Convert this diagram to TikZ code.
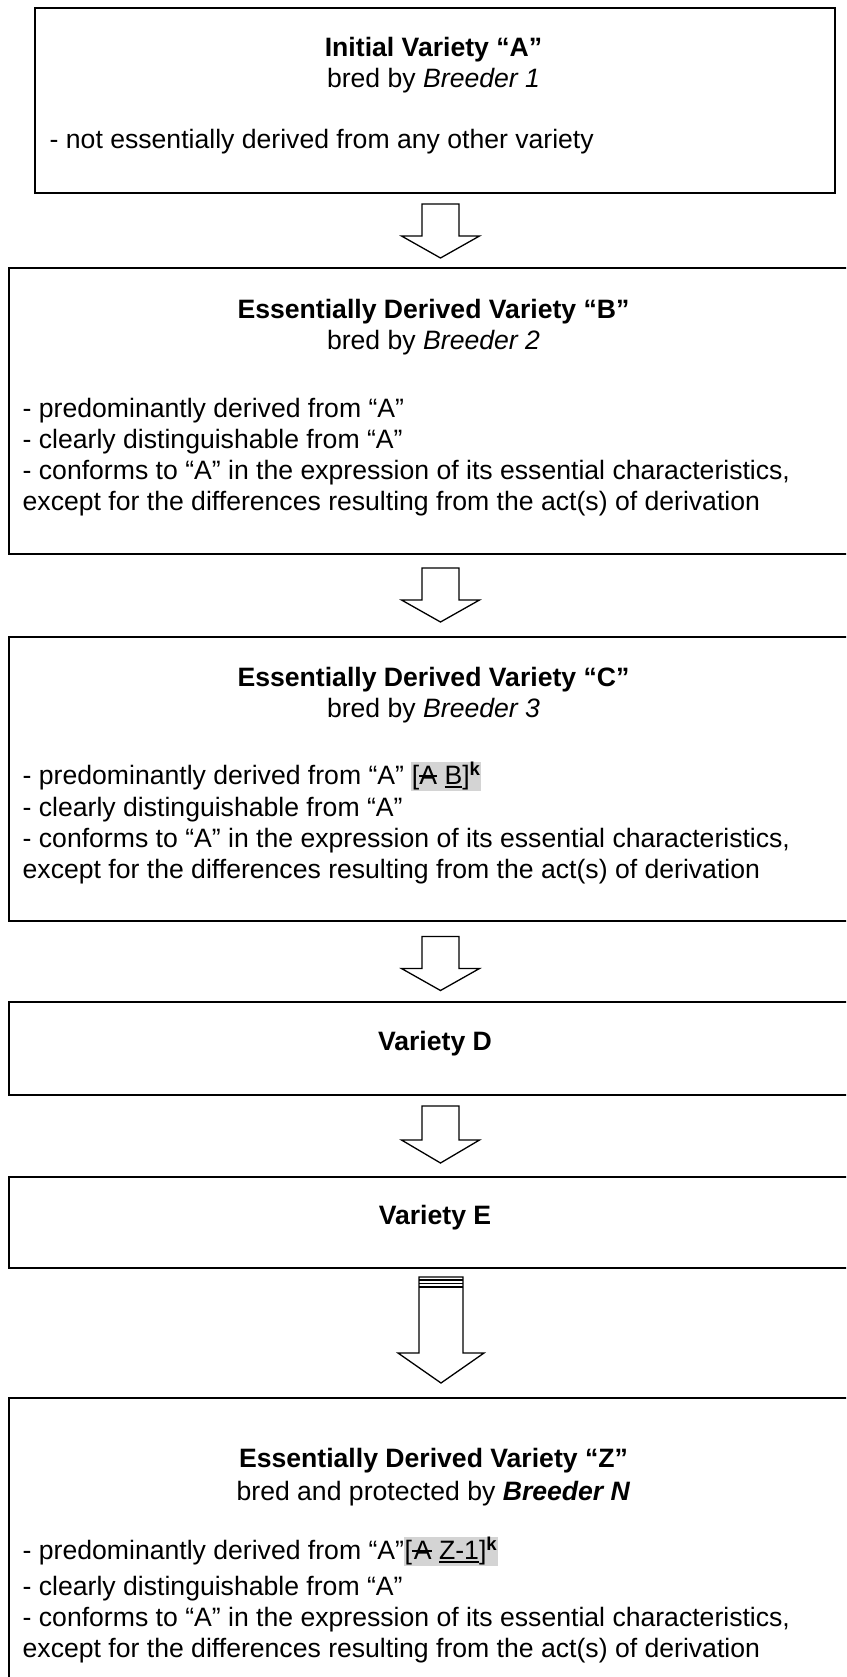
\documentclass[tikz,border=0pt]{standalone}
\usepackage{fontspec}
\setmainfont{Liberation Sans}
\definecolor{hl}{HTML}{D4D4D4}
\newsavebox\mytmpbox
\newcommand\mystrike[1]{\sbox\mytmpbox{#1}\rlap{\rule[0.3em]{\wd\mytmpbox}{0.07em}}\usebox\mytmpbox}
\newcommand\myunder[1]{\sbox\mytmpbox{#1}\rlap{\rule[-0.12em]{\wd\mytmpbox}{0.07em}}\usebox\mytmpbox}
\tikzset{
  vbox/.style={draw, line width=2pt, inner sep=0pt, anchor=north west},
  txt/.style={inner sep=0pt, font=\fontsize{26.6}{31}\selectfont},
  title/.style={txt, anchor=mid, font=\fontsize{26.6}{31}\selectfont\bfseries},
  sub/.style={txt, anchor=mid},
  item/.style={txt, anchor=mid west},
  arrowline/.style={draw, line width=1.3pt, line join=miter, fill=white},
  pics/blkarrow/.style n args={4}{code={
    \draw[arrowline] (-#1,0) -- (#1,0) -- (#1,#3) -- (#2,#3) -- (0,#4) -- (-#2,#3) -- (-#1,#3) -- cycle;
  }}
}
\newcommand{\hlAB}{\setlength{\fboxsep}{0.5pt}\colorbox{hl}{[\mystrike{A} \myunder{B}]\textsuperscript{\textbf{k}}}}
\newcommand{\hlAZ}{\setlength{\fboxsep}{0.5pt}\colorbox{hl}{[\mystrike{\hspace{2pt}A} \myunder{Z-1}]\textsuperscript{\textbf{k}}}}
\begin{document}
\begin{tikzpicture}[x=1pt,y=-1pt]
\useasboundingbox (0,0) rectangle (846,1677);
\clip (0,0) rectangle (846,1677);
\fill[white] (0,0) rectangle (846,1677);
% boxes
\node[vbox, minimum width=800pt, minimum height=185pt] (A) at (34,7.5) {};
\node[vbox, minimum width=850pt, minimum height=286pt] (B) at (8,267) {};
\node[vbox, minimum width=850pt, minimum height=284pt] (C) at (8,636) {};
\node[vbox, minimum width=850pt, minimum height=93pt] (D) at (8,1001) {};
\node[vbox, minimum width=850pt, minimum height=91pt] (E) at (8,1176) {};
\node[vbox, minimum width=850pt, minimum height=400pt] (Z) at (8,1397) {};
% arrows
\pic at (440.5,204) {blkarrow={18.5}{39}{32}{54}};
\pic at (440.5,568) {blkarrow={18.5}{39}{32}{54}};
\pic at (440.5,936.5) {blkarrow={18.5}{39}{32}{54}};
\pic at (440.5,1106) {blkarrow={18.5}{39}{34}{57}};
\pic at (441,1277) {blkarrow={22}{43}{76}{106}};
\draw[line width=1.3pt] (419,1280) -- (463,1280);
\draw[line width=1.3pt] (419,1283.5) -- (463,1283.5);
\draw[line width=1.3pt] (419,1287) -- (463,1287);
% texts A
\node[title] (at) at (433.5,54) {Initial Variety “A”};
\node[sub] (as) at (433.5,85) {bred by \textit{Breeder 1}};
\node[item] (a1) at (49.5,146) {- not essentially derived from any other variety};
% texts B
\node[title] (bt) at (433.5,316) {Essentially Derived Variety “B”};
\node[sub] (bs) at (433.5,347) {bred by \textit{Breeder 2}};
\node[item] (b1) at (22.5,415) {- predominantly derived from “A”};
\node[item] (b2) at (22.5,446) {- clearly distinguishable from “A”};
\node[item] (b3) at (22.5,477) {- conforms to “A” in the expression of its essential characteristics,};
\node[item] (b4) at (22.5,508) {except for the differences resulting from the act(s) of derivation};
% texts C
\node[title] (ct) at (433.5,684) {Essentially Derived Variety “C”};
\node[sub] (cs) at (433.5,714.5) {bred by \textit{Breeder 3}};
\node[item] (c1) at (22.5,782) {- predominantly derived from “A” \hlAB};
\node[item] (c2) at (22.5,814) {- clearly distinguishable from “A”};
\node[item] (c3) at (22.5,845) {- conforms to “A” in the expression of its essential characteristics,};
\node[item] (c4) at (22.5,875.5) {except for the differences resulting from the act(s) of derivation};
% D, E
\node[title] (dt) at (435,1047.5) {Variety D};
\node[title] (et) at (435,1221.5) {Variety E};
% texts Z
\node[title] (zt) at (433.5,1465) {Essentially Derived Variety “Z”};
\node[sub] (zs) at (433.5,1498) {bred and protected by \textbf{\textit{Breeder N}}};
\node[item] (z1) at (22.5,1557) {- predominantly derived from “A”\hlAZ};
\node[item] (z2) at (22.5,1593) {- clearly distinguishable from “A”};
\node[item] (z3) at (22.5,1624) {- conforms to “A” in the expression of its essential characteristics,};
\node[item] (z4) at (22.5,1654.5) {except for the differences resulting from the act(s) of derivation};
\end{tikzpicture}
\end{document}
